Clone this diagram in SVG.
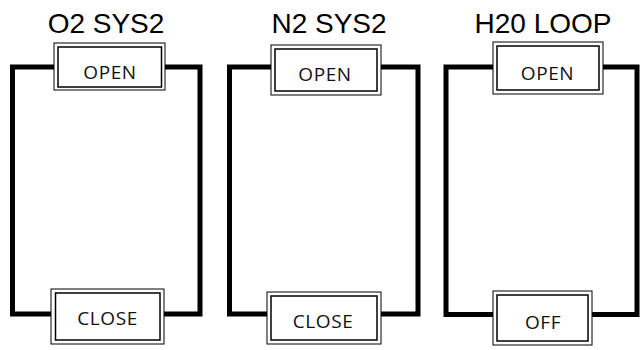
<svg xmlns="http://www.w3.org/2000/svg" width="641" height="350" viewBox="0 0 641 350">
<style>
.title{font-family:"Liberation Sans",Arial,sans-serif;font-size:28px;fill:#000;text-anchor:middle}
.lbl{font-family:"Open Sans","Noto Sans",sans-serif;font-size:19px;fill:#111;text-anchor:middle;letter-spacing:0.6px}
.outer{fill:#fff;stroke:#000;stroke-width:1}
.inner{fill:#fff;stroke:#000;stroke-width:1.5}
.wire{fill:none;stroke:#000;stroke-width:5;stroke-linejoin:miter;stroke-linecap:butt}
</style>
<g id="connectors">
<path class="wire" d="M60,67 H12.5 V314 H60"/>
<path class="wire" d="M160,67 H200 V314 H160"/>
<path class="wire" d="M275,67 H229.5 V314 H275"/>
<path class="wire" d="M375,67 H418 V314 H375"/>
<path class="wire" d="M497,67 H446 V314.5 H497"/>
<path class="wire" d="M597,67 H637 V314.5 H590"/>
</g>
<g id="title1"><text class="title" x="106" y="33">O2 SYS2</text></g>
<g id="title2"><text class="title" x="329" y="33">N2 SYS2</text></g>
<g id="title3"><text class="title" x="543" y="33">H20 LOOP</text></g>
<g id="o2-open">
<rect class="outer" x="54" y="43" width="111" height="47"/>
<rect class="inner" x="58" y="47" width="103.5" height="40"/>
<text class="lbl" x="110" y="79">OPEN</text>
</g>
<g id="o2-close">
<rect class="outer" x="51" y="289" width="113" height="55"/>
<rect class="inner" x="55.5" y="293" width="104.5" height="47"/>
<text class="lbl" x="107.5" y="325">CLOSE</text>
</g>
<g id="n2-open">
<rect class="outer" x="271" y="45" width="110" height="50"/>
<rect class="inner" x="275" y="49" width="102" height="42"/>
<text class="lbl" x="325" y="81">OPEN</text>
</g>
<g id="n2-close">
<rect class="outer" x="267" y="292" width="114" height="52"/>
<rect class="inner" x="271" y="296" width="106" height="44"/>
<text class="lbl" x="323" y="328">CLOSE</text>
</g>
<g id="h2o-open">
<rect class="outer" x="493" y="42" width="110" height="52"/>
<rect class="inner" x="497" y="46" width="102" height="44"/>
<text class="lbl" x="547.5" y="80">OPEN</text>
</g>
<g id="h2o-off">
<rect class="outer" x="493" y="291" width="99" height="54"/>
<rect class="inner" x="497" y="295" width="91" height="46"/>
<text class="lbl" x="543" y="329">OFF</text>
</g>
</svg>
